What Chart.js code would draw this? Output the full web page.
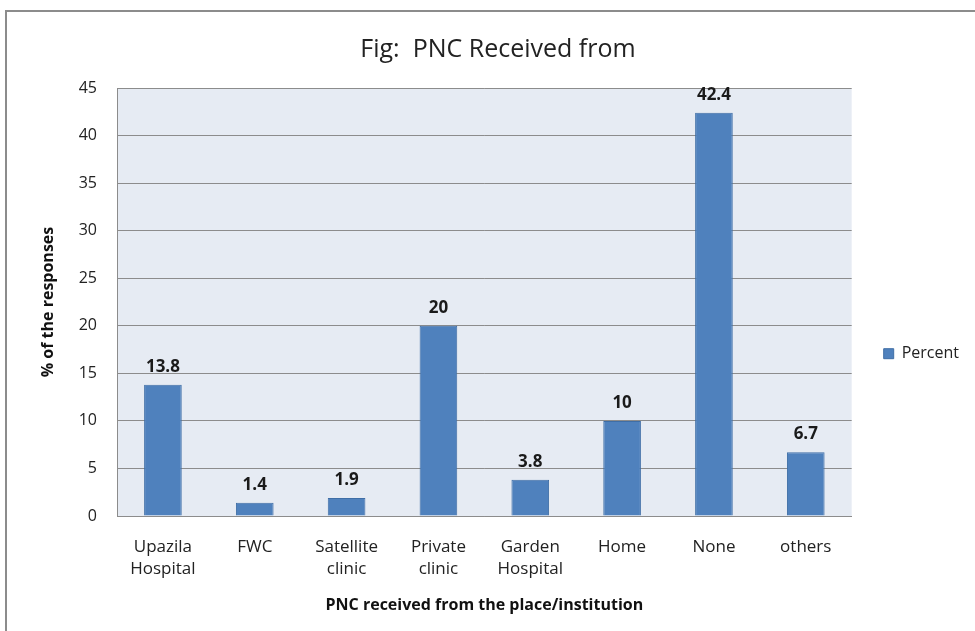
<!DOCTYPE html>
<html>
<head>
<meta charset="utf-8">
<script src="https://cdn.jsdelivr.net/npm/chart.js@4.4.1/dist/chart.umd.min.js"></script>
<style>
  html, body { margin: 0; padding: 0; background: #ffffff; }
  #wrap { width: 975px; height: 631px; position: relative; }
</style>
</head>
<body>
<div id="wrap"><canvas id="chart" width="975" height="631"></canvas></div>
<script>
// PNC received from the place / institution (percent of responses)
const categories = [
  ['Upazila', 'Hospital'], 'FWC', ['Satellite', 'clinic'], ['Private', 'clinic'],
  ['Garden', 'Hospital'], 'Home', 'None', 'others'
];
const percentValues = [13.8, 1.4, 1.9, 20, 3.8, 10, 42.4, 6.7];
const seriesName = 'Percent';
const yTicks = [0, 5, 10, 15, 20, 25, 30, 35, 40, 45];

const FONT = '"Open Sans", Lato, sans-serif';

// Outer frame and plot-area fill
const framePlugin = {
  id: 'frame',
  beforeDraw(chart) {
    const ctx = chart.ctx;
    const a = chart.chartArea;
    ctx.save();
    ctx.fillStyle = '#ffffff';
    ctx.fillRect(0, 0, chart.width, chart.height);
    ctx.strokeStyle = '#8c8c8c';
    ctx.lineWidth = 2;
    ctx.beginPath();
    ctx.moveTo(6, chart.height);
    ctx.lineTo(6, 11);
    ctx.lineTo(chart.width, 11);
    ctx.stroke();
    ctx.fillStyle = '#e6ebf3';
    ctx.fillRect(a.left, a.top, a.right - a.left, a.bottom - a.top);
    ctx.restore();
  }
};

// Value labels above each bar
const valueLabels = {
  id: 'valueLabels',
  afterDatasetsDraw(chart) {
    const ctx = chart.ctx;
    const meta = chart.getDatasetMeta(0);
    const data = chart.data.datasets[0].data;
    ctx.save();
    ctx.font = 'bold 17px ' + FONT;
    ctx.fillStyle = '#1a1a1a';
    ctx.textAlign = 'center';
    ctx.textBaseline = 'middle';
    meta.data.forEach((bar, i) => {
      ctx.fillText(String(data[i]), bar.x, bar.y - 18);
    });
    ctx.restore();
  }
};

new Chart(document.getElementById('chart'), {
  type: 'bar',
  data: {
    labels: categories,
    datasets: [{
      label: seriesName,
      data: percentValues,
      backgroundColor: '#4f81bd',
      borderColor: '#3f6ea6',
      borderWidth: 1,
      barPercentage: 0.41,
      categoryPercentage: 1.0
    }]
  },
  options: {
    responsive: false,
    animation: false,
    layout: { padding: { left: 27, right: 6, top: 0, bottom: 0 } },
    plugins: {
      title: {
        display: true,
        text: 'Fig:  PNC Received from',
        font: { family: FONT, size: 25, weight: 'normal' },
        color: '#222222',
        padding: { top: 35, bottom: 23 }
      },
      legend: {
        display: true,
        position: 'right',
        title: {
          display: true,
          text: '',
          font: { size: 12 },
          padding: { top: 62, bottom: 0 }
        },
        labels: {
          boxWidth: 10,
          boxHeight: 10,
          padding: 32,
          font: { family: FONT, size: 16 },
          color: '#222222'
        }
      },
      tooltip: { enabled: false }
    },
    scales: {
      x: {
        grid: { display: false, drawTicks: false },
        border: { display: true, color: '#8c8c8c', width: 1 },
        ticks: {
          font: { family: FONT, size: 17, lineHeight: 1.294 },
          color: '#222222',
          padding: 20,
          maxRotation: 0,
          autoSkip: false
        },
        title: {
          display: true,
          text: 'PNC received from the place/institution',
          font: { family: FONT, size: 16, weight: 'bold' },
          color: '#111111',
          padding: { top: 0, bottom: 16 }
        },
        afterFit(scale) { scale.height = 115; }
      },
      y: {
        min: 0,
        max: 45,
        afterBuildTicks(scale) { scale.ticks = yTicks.map(v => ({ value: v })); },
        grid: { color: '#8c8c8c', lineWidth: 1, drawTicks: false },
        border: { display: true, color: '#8c8c8c', width: 1 },
        ticks: {
          font: { family: FONT, size: 16 },
          color: '#222222',
          padding: 20
        },
        title: {
          display: true,
          text: '% of the responses',
          font: { family: FONT, size: 16, weight: 'bold' },
          color: '#111111',
          padding: { top: 12, bottom: 0 }
        },
        afterFit(scale) { scale.width = 90; }
      }
    }
  },
  plugins: [framePlugin, valueLabels]
});
</script>
</body>
</html>
